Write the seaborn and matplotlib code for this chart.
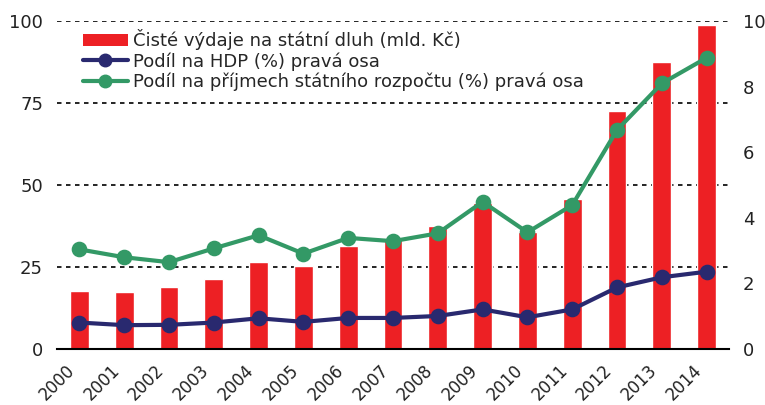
import numpy as np
import pandas as pd
import matplotlib
matplotlib.use("Agg")
import matplotlib.pyplot as plt
from matplotlib.lines import Line2D
from matplotlib.patches import Patch
import seaborn as sns

# data
years = ["2000", "2001", "2002", "2003", "2004", "2005", "2006", "2007",
         "2008", "2009", "2010", "2011", "2012", "2013", "2014"]
vydaje = [17.8, 17.4, 18.9, 21.3, 26.5, 25.3, 31.4, 33.8,
          37.5, 44.5, 35.8, 45.7, 72.6, 87.5, 98.8]
podil_hdp = [0.81, 0.73, 0.74, 0.81, 0.94, 0.83, 0.95, 0.95,
             1.01, 1.21, 0.97, 1.21, 1.88, 2.19, 2.36]
podil_prijmy = [3.04, 2.80, 2.65, 3.07, 3.47, 2.91, 3.39, 3.29,
                3.53, 4.49, 3.56, 4.39, 6.68, 8.10, 8.88]

df = pd.DataFrame({"rok": years, "vydaje": vydaje,
                   "hdp": podil_hdp, "prijmy": podil_prijmy})

red = "#ED2024"
navy = "#29296F"
green = "#339966"

sns.set_style("white")
plt.rcParams["font.family"] = ["DejaVu Sans"]
fs = 13

fig = plt.figure(figsize=(7.65, 4.05), dpi=100)
ax = fig.add_axes([0.0745, 0.138, 0.8785, 0.810])

sns.barplot(data=df, x="rok", y="vydaje", color=red, width=0.42,
            saturation=1, ax=ax, zorder=2)

ax2 = ax.twinx()
sns.pointplot(data=df, x="rok", y="prijmy", color=green, errorbar=None,
              markers="o", ax=ax2, linewidth=3, markersize=9)
sns.pointplot(data=df, x="rok", y="hdp", color=navy, errorbar=None,
              markers="o", ax=ax2, linewidth=3, markersize=9)

# left axis
ax.set_ylim(0, 100)
ax.set_yticks([0, 25, 50, 75, 100])
ax.yaxis.grid(True, color="black", linestyle=(0, (2.7, 2.7)), linewidth=1.2)
ax.set_axisbelow(True)
ax.tick_params(axis="y", length=0, pad=10, labelsize=fs, colors="#222222")

# right axis
ax2.set_ylim(0, 10)
ax2.set_yticks([0, 2, 4, 6, 8, 10])
ax2.tick_params(axis="y", length=0, pad=10, labelsize=fs, colors="#222222")
ax2.set_ylabel("")

# x axis: ticks on category boundaries
n = len(years)
edges = np.arange(n + 1) - 0.5
ax.set_xlim(-0.5, n - 0.5)
ax2.set_xlim(-0.5, n - 0.5)
ax.set_xticks(edges)
ax.set_xticklabels(years + [""], rotation=45, ha="center")
ax.tick_params(axis="x", direction="inout", length=9, width=1.5,
               color="black", pad=4, labelsize=12, labelcolor="#222222")
ax.set_xlabel("")
ax.set_ylabel("")

for s in ["top", "left", "right"]:
    ax.spines[s].set_visible(False)
    ax2.spines[s].set_visible(False)
ax2.spines["bottom"].set_visible(False)
ax.spines["bottom"].set_color("black")
ax.spines["bottom"].set_linewidth(1.5)

handles = [
    Patch(facecolor=red, edgecolor="none"),
    Line2D([0], [0], color=navy, lw=3, marker="o", markersize=9),
    Line2D([0], [0], color=green, lw=3, marker="o", markersize=9),
]
labels = [
    "Čisté výdaje na státní dluh (mld. Kč)",
    "Podíl na HDP (%) pravá osa",
    "Podíl na příjmech státního rozpočtu (%) pravá osa",
]
ax2.legend(handles, labels, loc="upper left", bbox_to_anchor=(0.038, 0.975),
           frameon=False, borderpad=0, borderaxespad=0, handlelength=2.5,
           handletextpad=0.3, labelspacing=0.1, fontsize=fs)

fig.savefig("out.png", dpi=100)
